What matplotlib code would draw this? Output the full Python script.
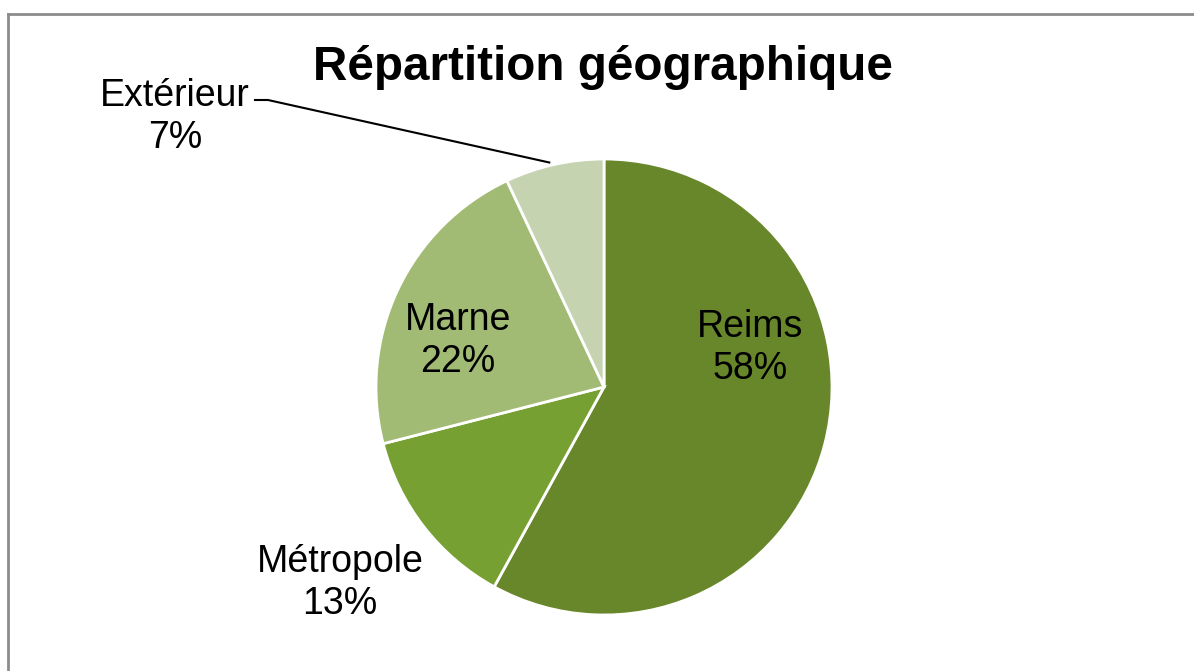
import numpy as np
import matplotlib.pyplot as plt
from matplotlib.lines import Line2D

# data
categories = ['Reims', 'Métropole', 'Marne', 'Extérieur']
shares = [58, 13, 22, 7]
colors = ['#68872B', '#77A032', '#A2BB74', '#C5D3B1']

title = 'Répartition géographique'

plt.rcParams['font.family'] = ['Liberation Sans', 'DejaVu Sans']

fig = plt.figure(figsize=(11.94, 6.71), dpi=100)
ax = fig.add_axes([0, 0, 1, 1])

cx, cy, r = 604, 671 - 387, 228
wedges, _ = ax.pie(shares, colors=colors, startangle=90, counterclock=False,
                   center=(cx, cy), radius=r, frame=True,
                   wedgeprops=dict(edgecolor='white', linewidth=2))
ax.set_xlim(0, 1194)
ax.set_ylim(0, 671)
ax.set_aspect('equal')
ax.axis('off')

# label placement relative to the pie centre, in pixels (Excel style)
label_off = [(146, 39), (-264, -196), (-146, 46), (-429, 270)]
for w, name, val, (dx, dy) in zip(wedges, categories, shares, label_off):
    ax.text(cx + dx, cy + dy, f'{name}\n{val}%', ha='center', va='center',
            fontsize=27, linespacing=1.2)

# leader line for the small slice
w = wedges[3]
mid = np.deg2rad((w.theta1 + w.theta2) / 2)
ex, ey = cx + r * np.cos(mid), cy + r * np.sin(mid)
ax.plot([ex - 5, 268, 255], [ey + 2, 671 - 100, 671 - 100], color='black', lw=1.5)

fig.text(603 / 1194, 1 - 68 / 671, title, ha='center', va='center',
         fontsize=34.3, fontweight='bold')

# chart-area border (right and bottom run past the picture)
fig.add_artist(Line2D([7.5 / 1194, 7.5 / 1194], [0, 1 - 13.5 / 671], color='#8c8c8c', lw=2))
fig.add_artist(Line2D([7.5 / 1194, 1], [1 - 13.5 / 671, 1 - 13.5 / 671], color='#8c8c8c', lw=2))

fig.savefig('out.png', dpi=100)
